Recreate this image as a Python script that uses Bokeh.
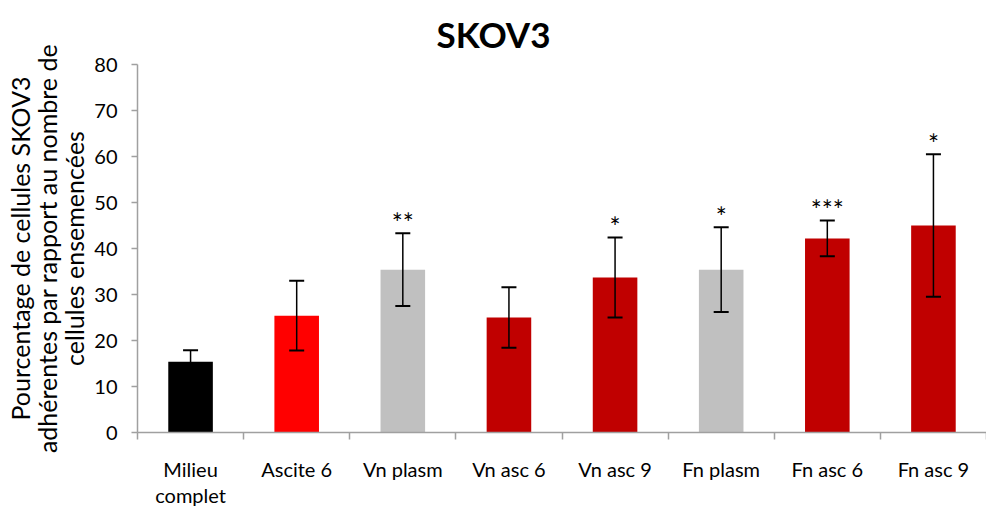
from bokeh.plotting import figure
from bokeh.models import ColumnDataSource, Whisker, TeeHead, FixedTicker
from bokeh.core.properties import value
from bokeh.embed import file_html
from bokeh.resources import INLINE

categories = ["Milieu\ncomplet", "Ascite 6", "Vn plasm", "Vn asc 6", "Vn asc 9", "Fn plasm", "Fn asc 6", "Fn asc 9"]
means = [15.4, 25.4, 35.4, 25.0, 33.7, 35.4, 42.2, 45.0]
errors = [2.5, 7.6, 7.9, 6.6, 8.7, 9.2, 3.9, 15.5]
significance = ["", "", "**", "", "*", "*", "***", "*"]
colors = ["#000000", "#FF0000", "#C0C0C0", "#C00000", "#C00000", "#C0C0C0", "#C00000", "#C00000"]
y_ticks = [0, 10, 20, 30, 40, 50, 60, 70, 80]
y_title = "Pourcentage de cellules SKOV3\nadhérentes par rapport au nombre de\ncellules ensemencées"

FONT = "Lato"
n = len(categories)
xs = [i + 0.5 for i in range(n)]
src = ColumnDataSource(dict(
    x=xs, top=means, color=colors,
    upper=[m + e for m, e in zip(means, errors)],
    lower=[m - e for m, e in zip(means, errors)],
    sig=significance,
))

p = figure(width=986, height=515, output_backend="svg", toolbar_location=None,
           x_range=(0, n), y_range=(0, 80), title="SKOV3",
           min_border_left=137, min_border_right=0, min_border_top=64, min_border_bottom=83)
p.outline_line_color = None
p.grid.visible = False
p.background_fill_color = "white"
p.border_fill_color = "white"

p.title.text_font = FONT
p.title.text_font_size = "35px"
p.title.text_font_style = "bold"
p.title.text_color = "black"
p.title.align = "left"
p.title.offset = 299
p.title.standoff = 19

p.vbar(x="x", top="top", bottom=0, width=0.42, color="color", line_color=None, source=src)

wh = Whisker(base="x", upper="upper", lower="lower", source=src, level="overlay",
             line_color="black", line_width=1.5,
             upper_head=TeeHead(size=15, line_color="black", line_width=2),
             lower_head=TeeHead(size=15, line_color="black", line_width=2))
p.add_layout(wh)

p.text(x="x", y="upper", text="sig", source=src, text_font=value(FONT),
       text_font_size="26px", text_align="center", text_baseline="middle",
       y_offset=-10, text_color="black")

axis_grey = "#A0A0A0"
# x axis
p.xaxis.ticker = FixedTicker(ticks=xs, minor_ticks=list(range(n + 1)))
p.xaxis.major_label_overrides = {x: c for x, c in zip(xs, categories)}
p.xaxis.major_tick_line_color = None
p.xaxis.minor_tick_line_color = axis_grey
p.xaxis.minor_tick_line_width = 1.5
p.xaxis.minor_tick_out = 7
p.xaxis.minor_tick_in = 0
p.xaxis.axis_line_color = axis_grey
p.xaxis.axis_line_width = 1.5
p.xaxis.major_label_text_font = FONT
p.xaxis.major_label_text_font_size = "20px"
p.xaxis.major_label_text_color = "black"
p.xaxis.major_label_text_line_height = 1.1
p.xaxis.major_label_standoff = 17

# y axis
p.yaxis.ticker = FixedTicker(ticks=y_ticks)
p.yaxis.minor_tick_line_color = None
p.yaxis.major_tick_line_color = axis_grey
p.yaxis.major_tick_line_width = 1.5
p.yaxis.major_tick_out = 6
p.yaxis.major_tick_in = 0
p.yaxis.axis_line_color = axis_grey
p.yaxis.axis_line_width = 1.5
p.yaxis.major_label_text_font = FONT
p.yaxis.major_label_text_font_size = "20px"
p.yaxis.major_label_text_color = "black"
p.yaxis.major_label_standoff = 14
p.yaxis.axis_label = y_title
p.yaxis.axis_label_text_font = FONT
p.yaxis.axis_label_text_font_size = "25px"
p.yaxis.axis_label_text_font_style = "normal"
p.yaxis.axis_label_text_color = "black"
p.yaxis.axis_label_text_line_height = 0.9
p.yaxis.axis_label_standoff = 2

open("out.html", "w").write(file_html(p, INLINE))
